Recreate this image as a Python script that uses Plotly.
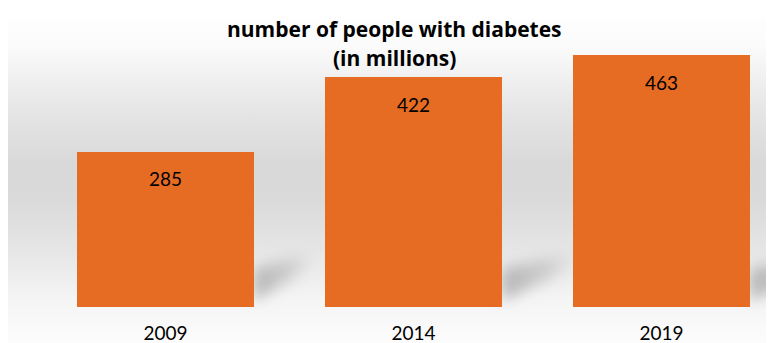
import base64
import plotly.graph_objects as go

# ---- data ----
years = ["2009", "2014", "2019"]
people_millions = [285, 422, 463]
title_lines = ["number of people with diabetes", "(in millions)"]

# ---- layout constants (figure coords; page has an 8px body offset) ----
OFF = 8
W, H = 774 - OFF, 343 - OFF
M_L, M_R, M_T, M_B = 0, 0, 12, 36
PLOT_H = H - M_T - M_B
PX_PER_CAT = 248.0
FIRST_CENTER = 165.5 - OFF
BAR_PX = 177.0
BAR_W = BAR_PX / PX_PER_CAT
Y_MAX = PLOT_H / 0.544
X_RANGE = [-(FIRST_CENTER - M_L) / PX_PER_CAT, (W - M_R - FIRST_CENTER) / PX_PER_CAT]

BAR_COLOR = "#E56C22"
FONT = "Lato"
TITLE_FONT = "Open Sans"

# ---- background panel (SVG gradient + soft bar shadows) ----
PANEL_X0, PANEL_Y0 = 0, 17 - OFF
PANEL_W, PANEL_H = W - PANEL_X0, H - PANEL_Y0
bottom_px = H - M_B
shadow_len = [60, 75, 80]
shadows = ""
for i in range(len(years)):
    r = FIRST_CENTER + PX_PER_CAT * i + BAR_PX / 2
    L = shadow_len[i]
    shadows += (
        f'<polygon points="{r},{bottom_px-6} {r},{bottom_px-38} {r+L},{bottom_px-56} {r+L},{bottom_px-40}" '
        f'fill="url(#sh)" filter="url(#blur)"/>'
    )
svg = f'''<svg xmlns="http://www.w3.org/2000/svg" width="{PANEL_W}" height="{PANEL_H}" viewBox="{PANEL_X0} {PANEL_Y0} {PANEL_W} {PANEL_H}" preserveAspectRatio="none">
<defs>
<linearGradient id="bg" x1="0" y1="0" x2="0" y2="1">
<stop offset="0" stop-color="#fefefe"/>
<stop offset="0.09" stop-color="#fbfbfb"/>
<stop offset="0.28" stop-color="#e6e6e6"/>
<stop offset="0.45" stop-color="#d9d9d9"/>
<stop offset="0.56" stop-color="#dadada"/>
<stop offset="0.72" stop-color="#e6e6e6"/>
<stop offset="0.86" stop-color="#f4f4f4"/>
<stop offset="1" stop-color="#fcfcfc"/>
</linearGradient>
<linearGradient id="sh" x1="0" y1="0" x2="1" y2="0">
<stop offset="0" stop-color="#9a9a9a" stop-opacity="0.7"/>
<stop offset="0.6" stop-color="#a8a8a8" stop-opacity="0.45"/>
<stop offset="1" stop-color="#bbbbbb" stop-opacity="0"/>
</linearGradient>
<filter id="blur" x="-50%" y="-50%" width="200%" height="200%"><feGaussianBlur stdDeviation="7"/></filter>
</defs>
<rect x="{PANEL_X0}" y="{PANEL_Y0}" width="{PANEL_W}" height="{PANEL_H}" fill="url(#bg)"/>
{shadows}
</svg>'''
svg_uri = "data:image/svg+xml;base64," + base64.b64encode(svg.encode()).decode()

fig = go.Figure()
fig.add_trace(go.Bar(
    x=years,
    y=people_millions,
    width=BAR_W,
    marker=dict(color=BAR_COLOR, line=dict(width=0)),
    hoverinfo="x+y",
))

for i, v in enumerate(people_millions):
    fig.add_annotation(
        x=i, y=v, xref="x", yref="y", text=str(v), showarrow=False,
        yanchor="middle", yshift=-27,
        font=dict(family=FONT, size=19, color="#000000"),
    )

# title as two annotations to control line spacing
for k, line in enumerate(title_lines):
    fig.add_annotation(
        xref="paper", yref="paper", x=(394 - OFF) / W,
        y=(bottom_px - (29 - OFF + 29 * k)) / PLOT_H,
        text=f"<b>{line}</b>", showarrow=False, xanchor="center", yanchor="middle",
        font=dict(family=TITLE_FONT, size=21, color="#000000"),
    )

fig.add_layout_image(
    source=svg_uri, xref="paper", yref="paper",
    x=(PANEL_X0 - M_L) / (W - M_L - M_R), y=(bottom_px - PANEL_Y0) / PLOT_H,
    sizex=PANEL_W / (W - M_L - M_R), sizey=PANEL_H / PLOT_H,
    xanchor="left", yanchor="top", sizing="stretch", layer="below",
)

fig.update_layout(
    width=W, height=H,
    margin=dict(l=M_L, r=M_R, t=M_T, b=M_B, pad=0),
    paper_bgcolor="#ffffff",
    plot_bgcolor="rgba(0,0,0,0)",
    showlegend=False,
    bargap=0,
    xaxis=dict(
        type="category", range=X_RANGE, showgrid=False, zeroline=False,
        showline=False, ticks="", ticklabelstandoff=13,
        tickfont=dict(family=FONT, size=19, color="#000000"),
        fixedrange=True,
    ),
    yaxis=dict(
        range=[0, Y_MAX], visible=False, showgrid=False, zeroline=False,
        fixedrange=True,
    ),
)

fig.write_html("out.html")
